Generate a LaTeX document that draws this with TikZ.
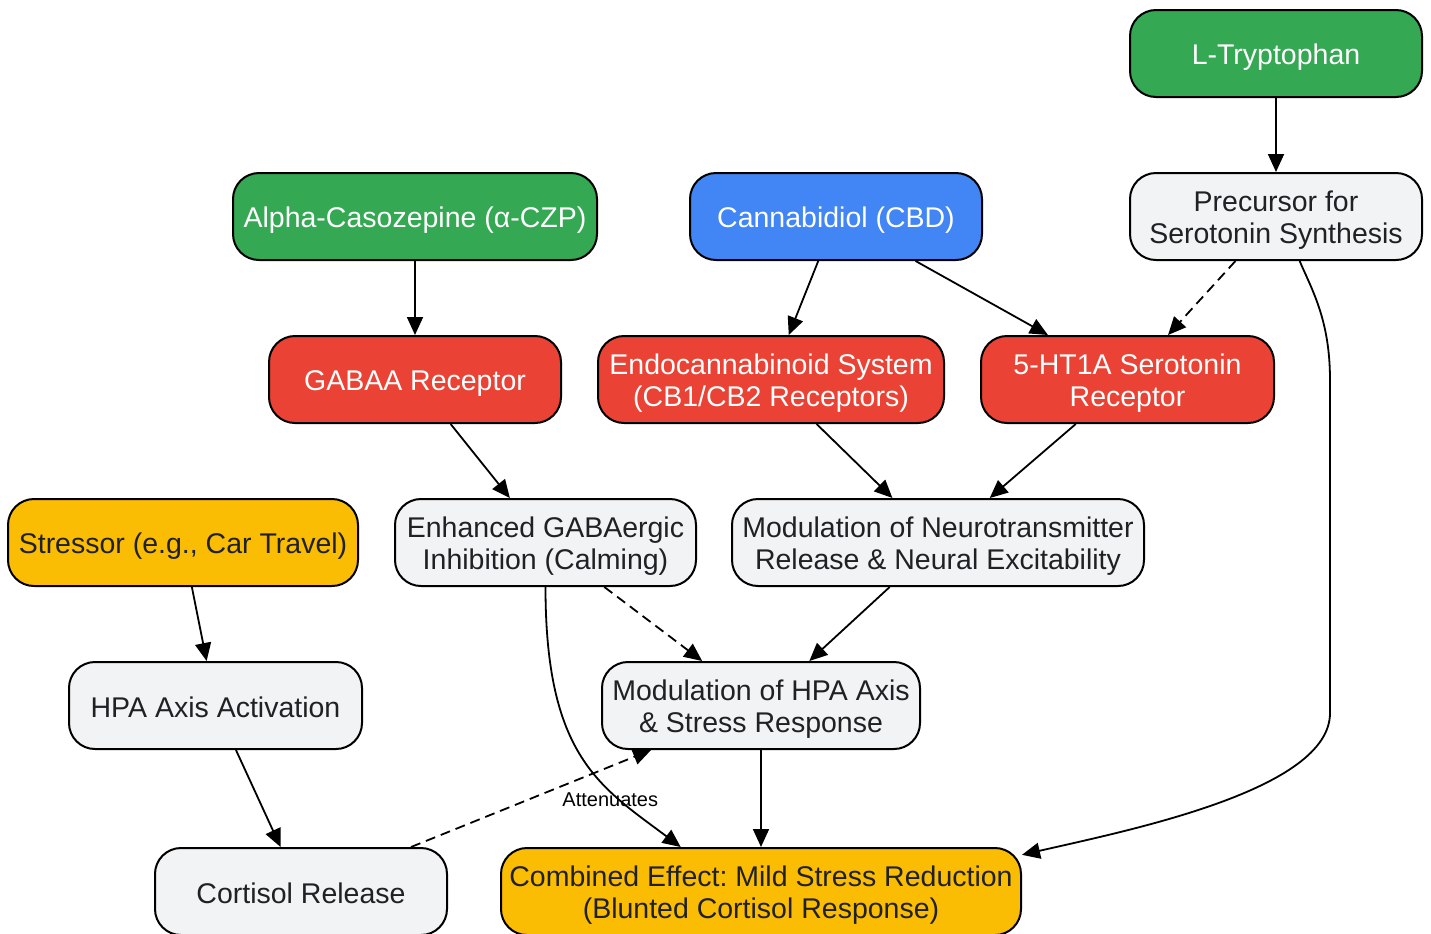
\documentclass[tikz,border=0pt]{standalone}
\usepackage{fontspec}
\setmainfont{Liberation Sans}
\usepackage{xcolor}
\usetikzlibrary{positioning,arrows.meta}
\definecolor{gGreen}{HTML}{34A853}
\definecolor{gBlue}{HTML}{4285F4}
\definecolor{gRed}{HTML}{EA4335}
\definecolor{gYellow}{HTML}{FBBC04}
\definecolor{gGray}{HTML}{F1F3F4}
\definecolor{gText}{HTML}{202124}
\frenchspacing

\tikzset{
	box/.style={draw=black,line width=1pt,rounded corners=13pt,align=flush center,minimum height=43.5pt,inner sep=0pt,
		font=\fontsize{14.25}{16}\selectfont,
		execute at begin node={\noindent\rule{0pt}{14pt}},execute at end node={\rule[-2.5pt]{0pt}{0pt}}},
	source/.style={box,fill=gGreen,text=white},
	drug/.style={box,fill=gBlue,text=white},
	receptor/.style={box,fill=gRed,text=white},
	process/.style={box,fill=gGray,text=gText},
	outcome/.style={box,fill=gYellow,text=gText},
	weak/.style={dash pattern=on 5pt off 3pt}
}

\begin{document}
\begin{tikzpicture}[->,>={Triangle[length=9pt,width=8pt]},line width=0.9pt,x=0.5pt,y=0.5pt]
		\useasboundingbox (0,0) rectangle (1431,-933);
		\node[source,text width=146pt] (tryp) at (1276,-53.5) {L-Tryptophan};
		\node[process,text width=146pt] (prec) at (1276,-216.5) {Precursor for\\Serotonin Synthesis};
		\node[source,text width=182pt] (alpha) at (415,-216.5) {Alpha-Casozepine (α-CZP)};
		\node[drug,text width=146pt] (cbd) at (836,-216.5) {Cannabidiol (CBD)};
		\node[receptor,text width=146pt] (gabaa) at (415,-379.5) {GABAA Receptor};
		\node[receptor,text width=173pt] (endo) at (771,-379.5) {Endocannabinoid System\\(CB1/CB2 Receptors)};
		\node[receptor,text width=146.5pt] (ht1a) at (1127.5,-379.5) {5-HT1A Serotonin\\Receptor};
		\node[outcome,text width=175pt] (stress) at (183,-542.5) {Stressor (e.g., Car Travel)};
		\node[process,text width=150.5pt] (enh) at (545.5,-542.5) {Enhanced GABAergic\\Inhibition (Calming)};
		\node[process,text width=206pt] (modnt) at (938,-542.5) {Modulation of Neurotransmitter\\Release \& Neural Excitability};
		\node[process,text width=146.5pt] (hpa) at (215.5,-705.5) {HPA Axis Activation};
		\node[process,text width=159pt] (modhpa) at (761,-705.5) {Modulation of HPA Axis\\\& Stress Response};
		\node[process,text width=146pt] (cort) at (301,-891.5) {Cortisol Release};
		\node[outcome,text width=260pt] (comb) at (761,-891.5) {Combined Effect: Mild Stress Reduction\\(Blunted Cortisol Response)};

		\draw (tryp) -- (prec);
		\draw (alpha) -- (gabaa);
		\draw (cbd) -- (endo);
		\draw (cbd) -- (ht1a);
		\draw[weak] (prec) -- (ht1a);
		\draw (gabaa) -- (enh);
		\draw (endo) -- (modnt);
		\draw (ht1a) -- (modnt);
		\draw (stress) -- (hpa);
		\draw[weak] (enh) -- (modhpa);
		\draw (modnt) -- (modhpa);
		\draw (hpa) -- (cort);
		\draw (modhpa) -- (comb);
		\draw[weak] (cort) -- node[pos=0.83,below=9.5pt,font=\fontsize{10}{12}\selectfont,text=black] {Attenuates} (modhpa);
		\draw (enh.south) .. controls +(0,-170) and +(-80,60) .. (comb.151);
		\draw (prec.-62) .. controls (1312,-290) and (1330,-320) .. (1330,-380) -- (1330,-713)
			.. controls (1330,-790) and (1130,-830) .. (comb.8);
\end{tikzpicture}
\end{document}
